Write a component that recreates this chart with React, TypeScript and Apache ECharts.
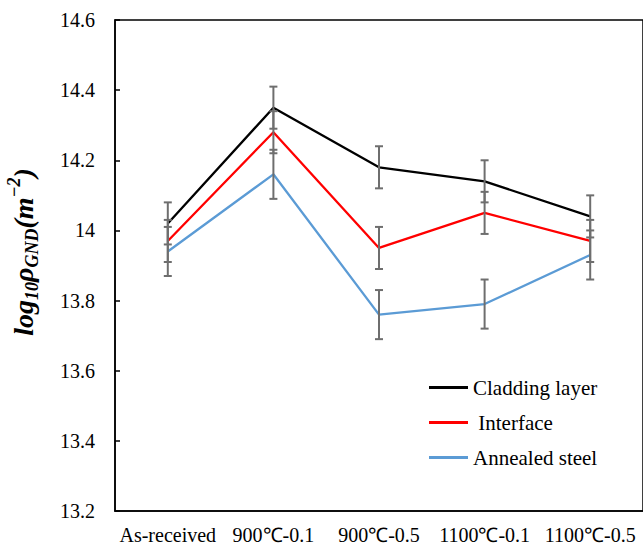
import React, { useEffect, useRef } from "react";
import * as echarts from "echarts";

// Sample conditions along the x axis
const categories = ["As-received", "900℃-0.1", "900℃-0.5", "1100℃-0.1", "1100℃-0.5"];

// log10 of GND density (m^-2) for each region
const claddingLayer = [14.02, 14.35, 14.18, 14.14, 14.04];
const interfaceZone = [13.97, 14.28, 13.95, 14.05, 13.97];
const annealedSteel = [13.94, 14.16, 13.76, 13.79, 13.93];

// Symmetric error bar half-widths
const claddingErr = [0.06, 0.06, 0.06, 0.06, 0.06];
const interfaceErr = [0.06, 0.06, 0.06, 0.06, 0.06];
const annealedErr = [0.07, 0.07, 0.07, 0.07, 0.07];

const yMin = 13.2;
const yMax = 14.6;
const yStep = 0.2;

const SERIF = "Liberation Serif";

function errorData(values: number[], errs: number[]) {
  return values.map((v, i) => [i, v - errs[i], v + errs[i]]);
}

function errorSeries(values: number[], errs: number[]) {
  return {
    type: "custom",
    z: 5,
    silent: true,
    data: errorData(values, errs),
    encode: { x: 0, y: [1, 2] },
    renderItem: (params: any, api: any) => {
      const x = api.value(0);
      const lo = api.coord([x, api.value(1)]);
      const hi = api.coord([x, api.value(2)]);
      const half = 4;
      const style = { stroke: "#6e6e6e", lineWidth: 2, fill: "none" };
      return {
        type: "group",
        children: [
          { type: "line", shape: { x1: lo[0], y1: lo[1], x2: hi[0], y2: hi[1] }, style },
          { type: "line", shape: { x1: lo[0] - half, y1: lo[1], x2: lo[0] + half, y2: lo[1] }, style },
          { type: "line", shape: { x1: hi[0] - half, y1: hi[1], x2: hi[0] + half, y2: hi[1] }, style },
        ],
      };
    },
  };
}

export default function App() {
  const ref = useRef<HTMLDivElement>(null);

  useEffect(() => {
    if (!ref.current) return;
    const chart = echarts.init(ref.current, null, { renderer: "svg" });
    const lineSeries = (name: string, data: number[], color: string) => ({
      name,
      type: "line",
      data,
      symbol: "none",
      z: 3,
      lineStyle: { color, width: 2.3 },
      itemStyle: { color },
    });
    chart.setOption({
      animation: false,
      backgroundColor: "#ffffff",
      textStyle: { fontFamily: SERIF },
      grid: {
        left: 115,
        top: 20,
        width: 530,
        bottom: 34,
        show: true,
        borderColor: "#000",
        borderWidth: 1.5,
        backgroundColor: "transparent",
      },
      legend: {
        orient: "vertical",
        left: 429,
        top: 377,
        padding: 0,
        icon: "rect",
        itemWidth: 39,
        itemHeight: 3,
        itemGap: 14,
        formatter: (name: string) => (name === "Interface" ? "\u00a0Interface" : name),
        textStyle: { fontFamily: SERIF, fontSize: 21, color: "#000" },
        data: ["Cladding layer", "Interface", "Annealed steel"],
      },
      xAxis: {
        type: "category",
        data: categories,
        boundaryGap: true,
        axisLine: { lineStyle: { color: "#000", width: 1.5 } },
        axisTick: { show: false },
        axisLabel: { color: "#000", fontSize: 20, fontFamily: SERIF, margin: 14, interval: 0 },
      },
      yAxis: {
        type: "value",
        min: yMin,
        max: yMax,
        interval: yStep,
        splitLine: { show: false },
        axisLine: { show: true, lineStyle: { color: "#000", width: 1.5 } },
        axisTick: { show: true, inside: true, length: 5, lineStyle: { color: "#000", width: 1.5 } },
        axisLabel: {
          color: "#000",
          fontSize: 20,
          fontFamily: SERIF,
          margin: 20,
          formatter: (v: number) => String(+v.toFixed(1)),
        },
      },
      graphic: [
        {
          type: "text",
          x: 23,
          y: 252,
          rotation: Math.PI / 2,
          style: {
            text: "{m|log}{s|10}{m|ρ}{s|GND}{m|(m}{p|−2}{m|)}",
            align: "center",
            verticalAlign: "middle",
            fill: "#000",
            rich: {
              m: { fontFamily: SERIF, fontSize: 28, fontWeight: "bold", fontStyle: "italic", lineHeight: 36, verticalAlign: "middle", fill: "#000" },
              s: { fontFamily: SERIF, fontSize: 18, fontWeight: "bold", fontStyle: "italic", verticalAlign: "bottom", fill: "#000" },
              p: { fontFamily: SERIF, fontSize: 18, fontWeight: "bold", fontStyle: "italic", verticalAlign: "top", fill: "#000" },
            },
          },
        },
      ],
      series: [
        lineSeries("Cladding layer", claddingLayer, "#000000"),
        lineSeries("Interface", interfaceZone, "#ff0000"),
        lineSeries("Annealed steel", annealedSteel, "#5b9bd5"),
        errorSeries(claddingLayer, claddingErr),
        errorSeries(interfaceZone, interfaceErr),
        errorSeries(annealedSteel, annealedErr),
      ],
    });
    return () => chart.dispose();
  }, []);

  return (
    <div
      ref={ref}
      style={{ position: "absolute", left: 0, top: 0, width: 643, height: 545 }}
    />
  );
}
